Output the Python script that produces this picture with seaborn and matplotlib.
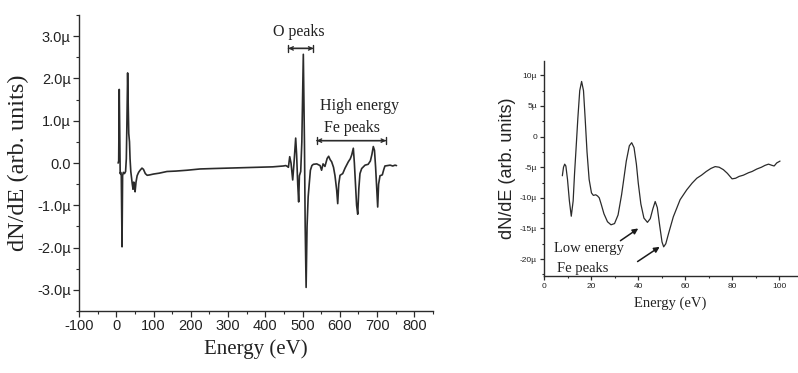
import matplotlib
matplotlib.use("Agg")
import matplotlib.pyplot as plt
from matplotlib.ticker import MultipleLocator, FuncFormatter
import seaborn as sns
import pandas as pd

# Full survey spectrum (eV, derivative signal in micro-units)
survey_energy = [5, 6.5, 8, 9.5, 10.5, 12, 13.5, 15.5, 17, 19, 22, 25, 27, 28.5, 30.5, 32, 33.5,
                 35.5, 37, 39, 41, 43, 45, 47, 49, 50.5, 53, 56, 60, 64, 69, 73, 78, 83, 90, 100,
                 115, 136, 160, 190, 225, 260, 300, 340, 380, 420, 448, 455, 459, 462, 465.5, 469,
                 473.5, 477, 481.5, 484, 487, 489.5, 491.5, 495, 498, 502, 505, 507, 509.5, 512,
                 515, 518, 521, 525, 529, 538, 547, 551, 555, 560, 566, 570, 574, 578, 583, 587,
                 591.5, 594.3, 597, 600.5, 607.7, 614, 622.8, 628, 631.8, 636.2, 639, 642, 645,
                 648, 651, 654, 658.6, 667.6, 676, 682, 686, 689.8, 693, 696, 699, 701.6, 704,
                 707.8, 714, 718, 721, 728, 735, 742, 748, 752]
survey_signal = [0.0, 0.05, 1.74, 0.6, -0.25, -0.22, -0.3, -1.98, -0.3, -0.22, -0.25, -0.2, 0.1,
                 0.9, 2.13, 1.4, 0.7, 0.5, 0.1, -0.2, -0.35, -0.5, -0.62, -0.45, -0.55, -0.68,
                 -0.45, -0.3, -0.22, -0.17, -0.12, -0.15, -0.25, -0.29, -0.28, -0.26, -0.24, -0.2,
                 -0.19, -0.17, -0.14, -0.13, -0.12, -0.11, -0.1, -0.09, -0.07, -0.06, -0.08, -0.1,
                 0.15, 0.0, -0.4, 0.0, 0.59, 0.2, -0.5, -0.92, -0.3, -0.2, 0.5, 2.57, 0.5, -1.5,
                 -2.94, -1.5, -0.8, -0.48, -0.17, -0.06, -0.03, -0.02, -0.06, -0.17, -0.02, -0.08,
                 0.11, 0.16, 0.08, 0.03, -0.1, -0.3, -0.64, -0.96, -0.5, -0.29, -0.25, -0.12, 0.03,
                 0.1, 0.19, 0.35, 0.0, -0.5, -1.0, -1.21, -0.6, -0.25, -0.13, -0.05, -0.03, 0.05,
                 0.2, 0.39, 0.3, -0.1, -0.6, -1.04, -0.5, -0.3, -0.28, -0.15, -0.07, -0.06, -0.05,
                 -0.07, -0.05, -0.06]

# Low-energy detail (eV, derivative signal in micro-units)
low_energy = [7.8, 8.3, 8.8, 9.3, 10, 10.8, 11.6, 12.4, 13.0, 13.6, 14.4, 15.2, 16.0, 16.8, 17.5,
              18.3, 19.2, 20.2, 21, 22, 22.8, 23.5, 24.3, 25.5, 27, 28.5, 30, 31.5, 33, 33.7, 35,
              36.3, 37.3, 38.3, 39.3, 40.1, 41.2, 42.5, 44, 45.2, 46.3, 47.3, 48.2, 49.2, 50.2,
              50.9, 51.8, 53, 55, 57.9, 60.7, 63, 65, 67, 69, 71, 72.8, 74.5, 76.3, 78, 80, 81.5,
              83, 84.8, 87, 88.5, 90.5, 92.5, 94, 95.5, 97, 97.9, 99, 100.4]
low_signal = [-6.4, -5.0, -4.5, -4.8, -7.0, -10.5, -13.0, -10.5, -6.0, -2.2, 3.0, 7.5, 9.0, 7.5,
              3.0, -2.5, -7.0, -9.2, -9.6, -9.5, -9.7, -10.0, -11.0, -12.6, -13.9, -14.4, -14.2,
              -12.8, -9.5, -7.6, -4.0, -1.5, -1.0, -1.8, -4.5, -7.6, -11.0, -13.3, -14.0, -13.4,
              -11.8, -10.6, -11.6, -14.5, -17.2, -18.0, -17.5, -15.8, -13.1, -10.3, -8.7, -7.6,
              -6.8, -6.3, -5.7, -5.2, -4.9, -5.0, -5.4, -6.0, -6.9, -6.8, -6.5, -6.3, -5.9, -5.7,
              -5.3, -5.0, -4.7, -4.5, -4.7, -4.8, -4.3, -4.0]

left_xticks = [-100, 0, 100, 200, 300, 400, 500, 600, 700, 800]
left_yticks = [-3, -2, -1, 0, 1, 2, 3]
right_xticks = [0, 20, 40, 60, 80, 100]
right_yticks = [-20, -15, -10, -5, 0, 5, 10]

sns.set_style("ticks")
plt.rcParams["axes.unicode_minus"] = False
serif = ["Liberation Serif", "DejaVu Serif"]
sans = ["Liberation Sans", "DejaVu Sans"]
ink = "#2b2b2b"

fig = plt.figure(figsize=(7.98, 3.73), dpi=100)
fig.patch.set_facecolor("white")

survey = pd.DataFrame({"energy": survey_energy, "signal": survey_signal})
detail = pd.DataFrame({"energy": low_energy, "signal": low_signal})


def style_axes(ax, tick_size, major_len, minor_len):
    sns.despine(ax=ax)
    for side in ("left", "bottom"):
        ax.spines[side].set_color(ink)
        ax.spines[side].set_linewidth(1.0)
    ax.tick_params(which="major", direction="out", length=major_len, width=0.9,
                   color=ink, labelsize=tick_size, labelcolor="#222222", pad=2)
    ax.tick_params(which="minor", direction="out", length=minor_len, width=0.8, color=ink)
    for lab in ax.get_xticklabels() + ax.get_yticklabels():
        lab.set_family(sans)
    ax.set_facecolor("white")


# ---- survey spectrum ----
ax1 = fig.add_axes([0.099, 0.166, 0.4436, 0.7938])
sns.lineplot(data=survey, x="energy", y="signal", ax=ax1, color=ink, linewidth=1.2,
             sort=False, estimator=None)
ax1.set_xlim(-100, 850)
ax1.set_ylim(-3.5, 3.5)
ax1.set_xticks(left_xticks)
ax1.set_yticks(left_yticks)
ax1.xaxis.set_minor_locator(MultipleLocator(50))
ax1.yaxis.set_minor_locator(MultipleLocator(0.5))
ax1.xaxis.set_major_formatter(FuncFormatter(lambda v, p: f"{v:.0f}"))
ax1.yaxis.set_major_formatter(FuncFormatter(lambda v, p: "0.0" if v == 0 else f"{v:.1f}\u00b5"))
style_axes(ax1, 10.5, 4, 2)
ax1.set_xlabel("Energy (eV)", family=serif, fontsize=15, color="#222222", labelpad=4)
ax1.set_ylabel("dN/dE (arb. units)", family=serif, fontsize=17.5, color="#222222", labelpad=6)

ax1.text(489, 3.09, "O peaks", family=serif, fontsize=11.5, ha="center", va="center", color="#222222")
ax1.annotate("", xy=(462, 2.71), xytext=(529, 2.71),
             arrowprops=dict(arrowstyle="<->", color=ink, lw=1.0, shrinkA=0, shrinkB=0,
                             mutation_scale=6))
ax1.annotate("", xy=(462, 2.71), xytext=(529, 2.71),
             arrowprops=dict(arrowstyle="|-|, widthA=0.25, widthB=0.25", color=ink, lw=1.0,
                             shrinkA=0, shrinkB=0))
ax1.text(652, 1.34, "High energy", family=serif, fontsize=11.5, ha="center", va="center", color="#222222")
ax1.text(632, 0.83, "Fe peaks", family=serif, fontsize=11.5, ha="center", va="center", color="#222222")
ax1.annotate("", xy=(538, 0.53), xytext=(724, 0.53),
             arrowprops=dict(arrowstyle="<->", color=ink, lw=1.0, shrinkA=0, shrinkB=0,
                             mutation_scale=6))
ax1.annotate("", xy=(538, 0.53), xytext=(724, 0.53),
             arrowprops=dict(arrowstyle="|-|, widthA=0.25, widthB=0.25", color=ink, lw=1.0,
                             shrinkA=0, shrinkB=0))

# ---- low-energy detail ----
ax2 = fig.add_axes([0.6817, 0.261, 0.317, 0.5765])
sns.lineplot(data=detail, x="energy", y="signal", ax=ax2, color=ink, linewidth=0.9,
             sort=False, estimator=None)
ax2.set_xlim(0, 107.6)
ax2.set_ylim(-22.7, 12.4)
ax2.set_xticks(right_xticks)
ax2.set_yticks(right_yticks)
ax2.xaxis.set_minor_locator(MultipleLocator(10))
ax2.yaxis.set_minor_locator(MultipleLocator(2.5))
ax2.yaxis.set_major_formatter(FuncFormatter(lambda v, p: "0" if v == 0 else f"{v:.0f}\u00b5"))
style_axes(ax2, 6, 3, 1.5)
ax2.set_xlabel("Energy (eV)", family=serif, fontsize=10.5, color="#222222", labelpad=5)
ax2.set_ylabel("dN/dE (arb. units)", family=sans, fontsize=13, color="#222222", labelpad=3)

ax2.text(4.2, -18.3, "Low energy", family=serif, fontsize=10.5, ha="left", va="center", color="#222222")
ax2.text(5.6, -21.5, "Fe peaks", family=serif, fontsize=10.5, ha="left", va="center", color="#222222")
ax2.annotate("", xy=(40.1, -15.0), xytext=(32.5, -17.0),
             arrowprops=dict(arrowstyle="-|>", color="#1a1a1a", lw=1.1, shrinkA=0, shrinkB=0,
                             mutation_scale=8))
ax2.annotate("", xy=(49.2, -18.0), xytext=(39.8, -20.4),
             arrowprops=dict(arrowstyle="-|>", color="#1a1a1a", lw=1.1, shrinkA=0, shrinkB=0,
                             mutation_scale=8))

fig.savefig("out.png", dpi=100, facecolor="white")
